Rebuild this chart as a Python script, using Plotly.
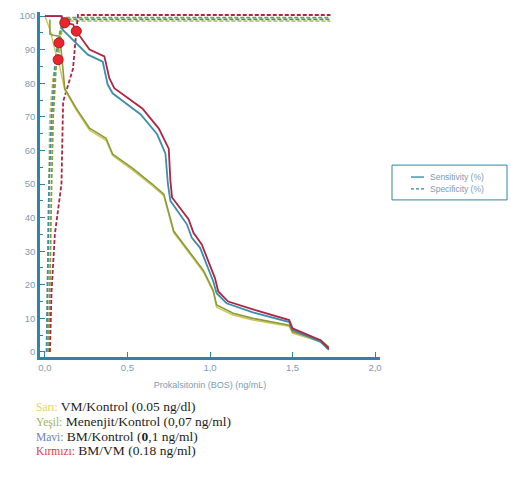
import plotly.graph_objects as go

# ---- data ----
blue_sens_x = [0, 0.10, 0.105, 0.26, 0.35, 0.38, 0.41, 0.58, 0.68, 0.73, 0.745, 0.76, 0.86, 0.89, 0.94, 1.02, 1.04, 1.10, 1.26, 1.48, 1.50, 1.67, 1.72]
blue_sens_y = [100, 100, 96, 88.5, 86.4, 79.6, 77, 70.7, 64.8, 59, 50, 45, 38, 34, 31, 21, 17.5, 14.5, 11.8, 8.9, 6.5, 3, 0.6]

red_sens_x = [0, 0.10, 0.12, 0.17, 0.19, 0.27, 0.36, 0.39, 0.42, 0.59, 0.69, 0.75, 0.76, 0.77, 0.87, 0.90, 0.95, 1.03, 1.05, 1.11, 1.27, 1.48, 1.50, 1.67, 1.72]
red_sens_y = [100, 100, 98, 97.5, 95.5, 90, 88, 81.5, 78.5, 72.5, 66.5, 60.5, 51, 46, 39.5, 35.5, 32, 22, 18, 15, 12.5, 9.5, 7, 3.5, 1]

green_sens_x = [0.03, 0.03, 0.05, 0.09, 0.12, 0.19, 0.27, 0.37, 0.41, 0.53, 0.65, 0.72, 0.78, 0.88, 0.96, 1.02, 1.04, 1.14, 1.26, 1.48, 1.50, 1.67, 1.72]
green_sens_y = [99, 94.7, 94.3, 94, 78.4, 72.5, 66.6, 63.6, 58.9, 54.7, 50, 47, 36, 29.3, 24.3, 18.3, 14, 11.5, 10, 8, 6, 3.5, 1.5]

yellow_sens_x = [0, 0.03, 0.06, 0.08, 0.12, 0.19, 0.27, 0.37, 0.41, 0.53, 0.65, 0.72, 0.78, 0.88, 0.96, 1.02, 1.04, 1.14, 1.26, 1.48, 1.50, 1.67, 1.72]
yellow_sens_y = [100, 96, 90, 87, 78, 72, 66, 63, 58.5, 54.2, 49.5, 46.5, 35.5, 28.8, 23.8, 17.8, 13.3, 11, 9.5, 7.6, 5.6, 3, 1.2]

blue_spec_x = [0.01, 0.02, 0.025, 0.04, 0.06, 0.075, 0.10, 0.13, 1.73]
blue_spec_y = [0, 30, 50, 70, 85, 92, 97, 99, 99]

green_spec_x = [0.02, 0.03, 0.04, 0.05, 0.07, 0.085, 0.10, 0.13, 1.73]
green_spec_y = [0, 20, 50, 70, 87, 92, 97, 99.5, 99.5]

yellow_spec_x = [0.01, 0.02, 0.03, 0.05, 0.08, 0.10, 0.13, 1.73]
yellow_spec_y = [0, 40, 70, 82, 87, 95, 98.5, 98.5]

red_spec_x = [0.03, 0.04, 0.06, 0.10, 0.11, 0.17, 0.19, 0.20, 1.73]
red_spec_y = [0, 18, 35, 50, 74.5, 84.3, 95.5, 100.3, 100.3]

cut_x = [0.08, 0.085, 0.12, 0.19]
cut_y = [87, 92, 98, 95.5]

x_ticks = [0, 0.5, 1.0, 1.5, 2.0]
x_ticktext = ["0,0", "0,5", "1,0", "1,5", "2,0"]
y_ticks = [0, 10, 20, 30, 40, 50, 60, 70, 80, 90, 100]

legend_names = ["Sensitivity (%)", "Specificity (%)"]
notes = [
    ("Sarı:", "#e8d25a", " VM/Kontrol (0.05 ng/dl)"),
    ("Yeşil:", "#9cb35e", " Menenjit/Kontrol (0,07 ng/ml)"),
    ("Mavi:", "#6f7fc4", " BM/Kontrol (<b>0</b>,1 ng/ml)"),
    ("Kırmızı:", "#e23a4a", " BM/VM (0.18 ng/ml)"),
]

# ---- styles ----
C_BLUE = "#3b8fab"
C_RED = "#ad2743"
C_GREEN = "#8a9b3c"
C_YELLOW = "#cfc552"
AX = "#2f85a8"
TXT = "#7d9bb5"

# plot area in pixels (for placing decorations)
PL, PR, PT, PB = 40, 380, 10, 357
def px(x):
    return (x - PL) / (PR - PL)
def py(y):
    return (PB - y) / (PB - PT)

fig = go.Figure()

dash = "4px,2px"
for xs, ys, c in [(yellow_spec_x, yellow_spec_y, C_YELLOW),
                  (blue_spec_x, blue_spec_y, C_BLUE),
                  (green_spec_x, green_spec_y, C_GREEN),
                  (red_spec_x, red_spec_y, C_RED)]:
    fig.add_trace(go.Scatter(x=xs, y=ys, mode="lines", showlegend=False,
                             line=dict(color=c, width=1.8, dash=dash)))

for xs, ys, c, w in [(yellow_sens_x, yellow_sens_y, C_YELLOW, 1.4),
                     (green_sens_x, green_sens_y, C_GREEN, 1.6),
                     (blue_sens_x, blue_sens_y, C_BLUE, 1.8),
                     (red_sens_x, red_sens_y, C_RED, 1.8)]:
    fig.add_trace(go.Scatter(x=xs, y=ys, mode="lines", showlegend=False,
                             line=dict(color=c, width=w)))

fig.add_trace(go.Scatter(x=cut_x, y=cut_y, mode="markers", showlegend=False,
                         marker=dict(color="#e8262e", size=10,
                                     line=dict(color="#b0181e", width=1))))

# legend box drawn by hand to match the compact original
fig.add_shape(type="rect", xref="paper", yref="paper",
              x0=px(392), x1=px(507), y0=py(199), y1=py(164),
              line=dict(color=AX, width=1), fillcolor="white")
for i, (name, dsh) in enumerate(zip(legend_names, ["solid", "3px,2px"])):
    yy = 176 + i * 12
    fig.add_shape(type="line", xref="paper", yref="paper",
                  x0=px(411), x1=px(424), y0=py(yy), y1=py(yy),
                  line=dict(color=AX, width=1.3, dash=dsh))
    fig.add_annotation(xref="paper", yref="paper", x=px(428), y=py(yy),
                       xanchor="left", yanchor="middle", showarrow=False,
                       text=name, font=dict(size=8.5, color=TXT))

for i, (lab, col, rest) in enumerate(notes):
    fig.add_annotation(xref="paper", yref="paper", x=px(34), y=py(407 + i * 14.8),
                       xanchor="left", yanchor="middle", showarrow=False,
                       text=(f"<span style='color:{col};font-size:11.5px'>{lab}</span>"
                             f"<span style='font-size:13.5px'>{rest}</span>"),
                       font=dict(family="Liberation Serif", size=13.5, color="#1e1e1e"))

fig.update_layout(
    width=511, height=479,
    margin=dict(l=PL, r=511 - PR, t=PT, b=479 - PB),
    paper_bgcolor="white", plot_bgcolor="white",
    font=dict(family="Liberation Sans", size=9, color=TXT),
    showlegend=False,
)
fig.update_xaxes(range=[-0.03, 2.03], showgrid=False, zeroline=False,
                 showline=True, linecolor=AX, linewidth=2.5,
                 tickvals=x_ticks, ticktext=x_ticktext,
                 ticks="inside", ticklen=5, tickcolor=AX, tickwidth=1,
                 tickfont=dict(size=9.5, color=TXT),
                 title=dict(text="Prokalsitonin (BOS) (ng/mL)",
                            font=dict(size=9, color=TXT), standoff=10))
fig.update_yaxes(range=[-1.5, 101.2], showgrid=False, zeroline=False,
                 showline=True, linecolor=AX, linewidth=2.5,
                 tickvals=y_ticks,
                 ticks="inside", ticklen=5, tickcolor=AX, tickwidth=1,
                 minor=dict(dtick=5, ticks="inside", ticklen=3, tickcolor=AX),
                 tickfont=dict(size=9.5, color=TXT))

fig.write_html("out.html")
